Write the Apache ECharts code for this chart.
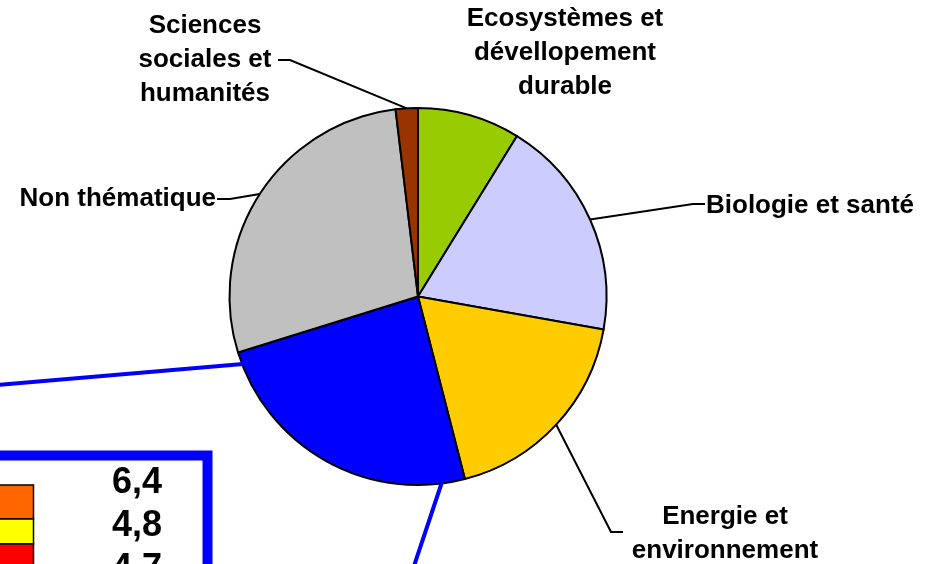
<!DOCTYPE html>
<html>
<head>
<meta charset="utf-8">
<script src="https://cdn.jsdelivr.net/npm/echarts@6/dist/echarts.min.js"></script>
<style>html,body{margin:0;padding:0;background:#fff;}#c{width:946px;height:564px;}</style>
</head>
<body>
<div id="c"></div>
<script>
// Data
var categories = ['Ecosystèmes et\ndévellopement\ndurable', 'Biologie et santé', 'Energie et\nenvironnement', 'Axe bleu', 'Non thématique', 'Sciences\nsociales et\nhumanités'];
var sliceValues = [8.8, 19.0, 18.2, 24.2, 27.9, 1.9];
var sliceColors = ['#99CC00', '#CCCCFF', '#FFCC00', '#0000FF', '#C0C0C0', '#993300'];
var boxValues = ['6,4', '4,8', '4,7'];
var boxColors = ['#FF6600', '#FFFF00', '#FF0000'];

var chart = echarts.init(document.getElementById('c'), null, {renderer: 'canvas'});
var font = 'Liberation Sans, Arial, sans-serif';

// label layout config per slice
var labelCfg = [
  {x: 565, y: 53, align: 'center', pts: null},
  {x: 706, y: 206, align: 'left', pts: [[693, 204], [705, 204]]},
  {x: 725, y: 534, align: 'center', pts: [[611, 532], [623, 532]]},
  null,
  {x: 216, y: 199, align: 'right', pts: [[230, 199], [217, 199]]},
  {x: 205, y: 60, align: 'center', pts: [[290, 60], [278, 60]]}
];

var data = categories.map(function (n, i) {
  var item = {name: n, value: sliceValues[i], itemStyle: {color: sliceColors[i]}};
  if (i === 3) { item.label = {show: false}; item.labelLine = {show: false}; }
  if (i === 0) { item.labelLine = {show: false}; }
  return item;
});

var graphics = [
  {type: 'rect', shape: {x: -20, y: 455.5, width: 227.5, height: 200}, style: {fill: 'none', stroke: '#0000FF', lineWidth: 10}, z: 10},
  {type: 'line', shape: {x1: 243, y1: 364, x2: -2, y2: 385}, style: {stroke: '#0000FF', lineWidth: 4}, z: 10},
  {type: 'line', shape: {x1: 442, y1: 482, x2: 414, y2: 566}, style: {stroke: '#0000FF', lineWidth: 4}, z: 10}
];
var sqTops = [485, 519, 544];
var sqHeights = [34, 25, 30];
var valY = [483, 526, 569];
boxColors.forEach(function (c, i) {
  graphics.push({type: 'rect', shape: {x: -5, y: sqTops[i], width: 38.5, height: sqHeights[i]}, style: {fill: c, stroke: '#000', lineWidth: 1.5}, z: 11});
});
boxValues.forEach(function (v, i) {
  graphics.push({type: 'text', x: 162, y: valY[i], style: {text: v, font: 'bold 36px ' + font, fill: '#000', align: 'right', verticalAlign: 'middle'}, z: 11});
});

chart.setOption({
  animation: false,
  backgroundColor: '#fff',
  series: [{
    type: 'pie',
    center: [418, 296.5],
    radius: 188.5,
    startAngle: 90,
    clockwise: true,
    avoidLabelOverlap: false,
    itemStyle: {borderColor: '#000', borderWidth: 2},
    label: {show: true, position: 'outside', color: '#000', fontFamily: font, fontWeight: 'bold', fontSize: 26, lineHeight: 34, align: 'center'},
    labelLine: {show: true, lineStyle: {color: '#000', width: 2}, length: 10, length2: 10},
    labelLayout: function (params) {
      var cfg = labelCfg[params.dataIndex];
      if (!cfg) return {};
      var res = {x: cfg.x, y: cfg.y, align: cfg.align, verticalAlign: 'middle'};
      if (cfg.pts && params.labelLinePoints) {
        res.labelLinePoints = [params.labelLinePoints[0]].concat(cfg.pts);
      }
      return res;
    },
    data: data
  }],
  graphic: graphics
});
</script>
</body>
</html>
